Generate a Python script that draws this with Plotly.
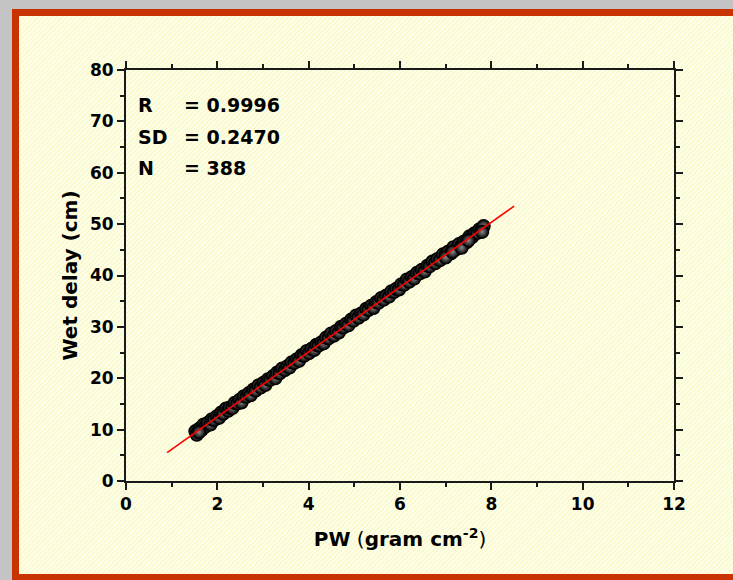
import base64
import numpy as np
import plotly.graph_objects as go

# ---------------- data ----------------
pw = [1.52, 1.55, 1.61, 1.66, 1.70, 1.74, 1.79, 1.85, 1.88, 1.93, 1.99, 2.04, 2.08, 2.13,
      2.19, 2.24, 2.27, 2.33, 2.38, 2.44, 2.49, 2.53, 2.58, 2.64, 2.69, 2.73, 2.79, 2.84,
      2.90, 2.95, 3.01, 3.05, 3.11, 3.16, 3.22, 3.27, 3.31, 3.37, 3.42, 3.48, 3.53, 3.58,
      3.63, 3.69, 3.74, 3.79, 3.85, 3.90, 3.96, 4.01, 4.06, 4.12, 4.17, 4.22, 4.28, 4.33,
      4.38, 4.44, 4.49, 4.55, 4.60, 4.66, 4.71, 4.76, 4.82, 4.87, 4.93, 4.98, 5.04, 5.09,
      5.15, 5.20, 5.26, 5.31, 5.37, 5.42, 5.48, 5.53, 5.59, 5.64, 5.70, 5.76, 5.81, 5.87,
      5.92, 5.98, 6.03, 6.09, 6.15, 6.20, 6.26, 6.31, 6.37, 6.43, 6.48, 6.54, 6.60, 6.65,
      6.71, 6.77, 6.82, 6.88, 6.94, 7.00, 7.05, 7.11, 7.17, 7.23, 7.29, 7.34, 7.40, 7.46,
      7.52, 7.58, 7.63, 7.69, 7.74, 7.79, 7.83,
      1.55, 1.60, 7.00, 7.15, 7.35, 7.50, 7.80]
wet_delay = [9.7, 9.2, 10.2, 10.0, 11.0, 10.6, 11.3, 11.0, 12.0, 11.9, 12.6, 12.3, 13.3, 13.1,
             14.1, 13.7, 14.3, 14.2, 15.2, 15.1, 15.8, 15.3, 16.5, 16.4, 17.1, 16.7, 17.8, 17.6,
             18.6, 18.2, 19.1, 18.7, 19.8, 19.7, 20.4, 20.0, 21.1, 21.0, 21.9, 21.6, 22.3, 22.1,
             23.1, 23.0, 23.7, 23.4, 24.5, 24.4, 25.3, 24.9, 25.7, 25.5, 26.5, 26.4, 27.0, 26.8,
             27.9, 27.8, 28.7, 28.3, 29.2, 28.9, 30.0, 29.9, 30.6, 30.3, 31.4, 31.2, 32.2, 31.8,
             32.6, 32.4, 33.5, 33.3, 34.1, 33.7, 34.8, 34.7, 35.6, 35.3, 36.1, 35.9, 36.9, 36.8,
             37.4, 37.3, 38.3, 38.2, 39.2, 38.8, 39.7, 39.4, 40.5, 40.4, 41.1, 40.8, 41.9, 41.8,
             42.7, 42.4, 43.2, 43.0, 44.1, 44.0, 44.6, 44.3, 45.5, 45.1, 46.1, 45.7, 46.6, 46.5,
             47.6, 47.5, 48.2, 48.3, 49.0, 49.0, 49.6,
             9.0, 9.5, 43.5, 44.6, 45.4, 46.8, 48.5]
fit_range = [0.9, 8.5]

stat_labels = ["R", "SD", "N"]
stat_values = ["= 0.9996", "= 0.2470", "= 388"]

x_ticks = [0, 2, 4, 6, 8, 10, 12]
y_ticks = [0, 10, 20, 30, 40, 50, 60, 70, 80]

# ---------------- layout geometry (pixels) ----------------
W, H = 733, 580
L, R, T, B = 126, 674, 70, 481


def px(x):
    return (x - L) / (R - L)


def py(y):
    return (B - y) / (B - T)


slope, icpt = np.polyfit(pw, wet_delay, 1)
fit_x = np.array(fit_range)
fit_y = slope * fit_x + icpt

fig = go.Figure()
fig.add_trace(go.Scatter(
    x=pw, y=wet_delay, mode="markers",
    marker=dict(size=13, color="#000000",
                gradient=dict(type="radial", color="#8a8a8a"),
                line=dict(color="#000000", width=1.2)),
    showlegend=False, hoverinfo="x+y"))
fig.add_trace(go.Scatter(
    x=fit_x, y=fit_y, mode="lines",
    line=dict(color="#ff0000", width=1.6),
    showlegend=False, hoverinfo="skip"))

# hatched pale-yellow background as an SVG pattern
iw, ih = W - 19, 574 - 16
svg = (f'<svg xmlns="http://www.w3.org/2000/svg" width="{iw}" height="{ih}">'
       '<defs><pattern id="p" width="3.4" height="3.4" patternUnits="userSpaceOnUse" '
       'patternTransform="rotate(45)">'
       '<rect width="3.4" height="3.4" fill="#ffffee"/>'
       '<rect width="1.7" height="3.4" fill="#f9f9cc"/></pattern></defs>'
       f'<rect width="{iw}" height="{ih}" fill="url(#p)"/></svg>')
src = "data:image/svg+xml;base64," + base64.b64encode(svg.encode()).decode()

red = "#c93300"
shapes = []
for (x0, y0, x1, y1) in [(12, 9, W, 16), (12, 9, 19, H), (12, 574, W, H)]:
    shapes.append(dict(type="rect", xref="paper", yref="paper",
                       x0=px(x0), x1=px(x1), y0=py(y1), y1=py(y0),
                       fillcolor=red, line=dict(width=0), layer="below"))

annotations = []
for i, (lab, val) in enumerate(zip(stat_labels, stat_values)):
    yc = py(105 + i * 31.5)
    annotations.append(dict(x=px(136), y=yc, xref="paper", yref="paper", text=lab,
                            showarrow=False, xanchor="left", yanchor="middle",
                            font=dict(family="DejaVu Sans", size=19, color="#000",
                                      weight="bold")))
    annotations.append(dict(x=px(182), y=yc, xref="paper", yref="paper", text=val,
                            showarrow=False, xanchor="left", yanchor="middle",
                            font=dict(family="DejaVu Sans", size=19, color="#000",
                                      weight="bold")))

axis_common = dict(
    showline=True, linecolor="#1a1a1a", linewidth=2, mirror="allticks",
    ticks="outside", ticklen=7, tickwidth=2, tickcolor="#1a1a1a",
    showgrid=False, zeroline=False,
    tickfont=dict(family="DejaVu Sans", size=17, color="#000", weight="bold"),
)

fig.update_layout(
    width=W, height=H,
    margin=dict(l=L, r=W - R, t=T, b=H - B, pad=0),
    paper_bgcolor="#c4c4c4",
    plot_bgcolor="rgba(0,0,0,0)",
    images=[dict(source=src, xref="paper", yref="paper",
                 x=px(19), y=py(16), sizex=(W - 19) / (R - L), sizey=(574 - 16) / (B - T),
                 xanchor="left", yanchor="top", sizing="stretch", layer="below")],
    shapes=shapes,
    annotations=annotations,
    xaxis=dict(range=[0, 12], tickvals=x_ticks,
               minor=dict(ticks="outside", ticklen=4, tickwidth=1.5, dtick=1,
                          tickcolor="#1a1a1a"),
               title=dict(text="<b>PW</b> (<b>gram cm<sup>-2</sup></b>)", standoff=19,
                          font=dict(family="DejaVu Sans", size=20, color="#000")),
               **axis_common),
    yaxis=dict(range=[0, 80], tickvals=y_ticks,
               minor=dict(ticks="outside", ticklen=4, tickwidth=1.5, dtick=5,
                          tickcolor="#1a1a1a"),
               title=dict(text="Wet delay (cm)", standoff=7,
                          font=dict(family="DejaVu Sans", size=20, color="#000",
                                    weight="bold")),
               **axis_common),
)

fig.write_html("out.html", post_script="document.body.style.margin='0';",
               config={"displayModeBar": False})
